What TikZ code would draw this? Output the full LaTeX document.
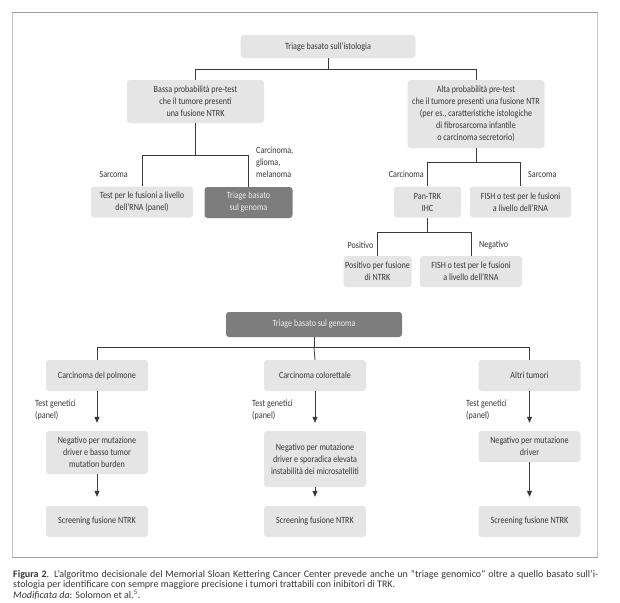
\documentclass[tikz,border=0pt]{standalone}
\usepackage{fontspec}
\setmainfont{Carlito}
\newfontfamily\boxfont{Carlito}[FakeStretch=0.85]
\usetikzlibrary{arrows.meta}
\definecolor{boxgray}{HTML}{E5E5E5}
\definecolor{darkfill}{HTML}{7D7D7D}
\definecolor{darktxt}{HTML}{ECECEC}
\definecolor{txt}{HTML}{363636}
\definecolor{linecol}{HTML}{3A3A3A}
\begin{document}
\begin{tikzpicture}[x=1pt,y=-1pt,
  box/.style={fill=boxgray, rounded corners=3pt, inner sep=0pt, align=center,
    text=txt, font=\boxfont\fontsize{9.5}{12}\selectfont},
  dbox/.style={box, fill=darkfill, text=darktxt},
  lbl/.style={inner sep=0pt, align=left, text=txt, font=\boxfont\fontsize{9.5}{12}\selectfont},
  conn/.style={draw=linecol, line width=0.8pt},
  arr/.style={conn, -{Triangle[width=5pt,length=6pt]}},
]
\useasboundingbox (0,0) rectangle (620,602);
\fill[white] (0,0) rectangle (620,602);
% frame
\draw[color=gray!45, line width=1.6pt] (12.5,12.5) -- (12.5,557) (597.5,12.5) -- (597.5,557);
\draw[color=gray!75, line width=0.8pt] (12,12.5) -- (598,12.5) (12,557) -- (598,557);

% ---- upper tree
\node[box, minimum width=175pt, minimum height=23pt] (top) at (328,46.5) {Triage basato sull’istologia};
\node[box, minimum width=137pt, minimum height=43pt] (bassa) at (195.5,101.5) {Bassa probabilità pre-test\\che il tumore presenti\\una fusione NTRK};
\node[box, minimum width=137pt, minimum height=68pt] (alta) at (476,114) {Alta probabilità pre-test\\che il tumore presenti una fusione NTR\\(per es., caratteristiche istologiche\\di fibrosarcoma infantile\\o carcinoma secretorio)};
\node[box, minimum width=102pt, minimum height=31pt] (test) at (142,202) {Test per le fusioni a livello\\dell’RNA (panel)};
\node[dbox, minimum width=88pt, minimum height=31pt] (gen1) at (248.5,202.5) {Triage basato\\sul genoma};
\node[box, minimum width=67pt, minimum height=31pt] (pan) at (427.5,202) {Pan-TRK\\IHC};
\node[box, minimum width=101pt, minimum height=31pt] (fish1) at (520.5,202) {FISH o test per le fusioni\\a livello dell’RNA};
\node[box, minimum width=68pt, minimum height=31pt] (pos) at (377.5,271.5) {Positivo per fusione\\di NTRK};
\node[box, minimum width=102pt, minimum height=31pt] (fish2) at (471,271.5) {FISH o test per le fusioni\\a livello dell’RNA};

\draw[conn] (top.south) -- ++(0,11) coordinate (j0);
\draw[conn] (bassa.north) |- (j0) -| (alta.north);
\draw[conn] (bassa.south) -- ++(0,32) coordinate (j1);
\draw[conn] (test.north) |- (j1) -| (gen1.north);
\draw[conn] (alta.south) -- ++(0,14) coordinate (j2);
\draw[conn] (pan.north) |- (j2) -| (fish1.north);
\draw[conn] (pan.south) -- ++(0,15) coordinate (j3);
\draw[conn] (pos.north) |- (j3) -| (fish2.north);

\node[lbl, anchor=east] (sarL) at (128,174) {Sarcoma};
\node[lbl, anchor=west] (cgm) at (256,162) {Carcinoma,\\glioma,\\melanoma};
\node[lbl, anchor=east] (carR) at (424,174) {Carcinoma};
\node[lbl, anchor=west] (sarR) at (528,174) {Sarcoma};
\node[lbl, anchor=east] (posL) at (373.5,245) {Positivo};
\node[lbl, anchor=west] (negL) at (479,245) {Negativo};

% ---- lower tree
\node[dbox, minimum width=176pt, minimum height=25pt] (gen2) at (314,324.5) {Triage basato sul genoma};
\foreach \n/\x in {1/97,2/315,3/529.5}{
  \node[box, minimum width=102pt, minimum height=31pt] (s\n) at (\x,521.5) {Screening fusione NTRK};
}
\node[box, minimum width=102pt, minimum height=31pt] (c1) at (97,375.5) {Carcinoma del polmone};
\node[box, minimum width=102pt, minimum height=31pt] (c2) at (315,375.5) {Carcinoma colorettale};
\node[box, minimum width=102pt, minimum height=31pt] (c3) at (529.5,375.5) {Altri tumori};
\node[box, minimum width=102pt, minimum height=43pt] (n1) at (97,452.5) {Negativo per mutazione\\driver e basso tumor\\mutation burden};
\node[box, minimum width=102pt, minimum height=56pt] (n2) at (315,459) {Negativo per mutazione\\driver e sporadica elevata\\instabilità dei microsatelliti};
\node[box, minimum width=102pt, minimum height=31pt] (n3) at (529.5,446.5) {Negativo per mutazione\\driver};

\draw[conn] (gen2.south) -- ++(0,10.5) coordinate (j4);
\draw[conn] (j4) -- (c2.north);
\draw[conn] (c1.north) |- (j4) -| (c3.north);
\foreach \n in {1,2,3}{
  \draw[arr, shorten >=8pt] (c\n.south) -- (n\n.north);
  \draw[arr, shorten >=9pt] (n\n.south) -- (s\n.north);
}
\node[lbl, anchor=west] (tg1) at (35,410) {Test genetici\\(panel)};
\node[lbl, anchor=west] (tg2) at (252,410) {Test genetici\\(panel)};
\node[lbl, anchor=west] (tg3) at (466,410) {Test genetici\\(panel)};

% ---- caption
\node[inner sep=0pt, anchor=north west, align=left, text=txt, font=\fontsize{10}{10.5}\selectfont] (cap) at (13,570)
 {\makebox[585pt][s]{\textbf{Figura 2}. L’algoritmo decisionale del Memorial Sloan Kettering Cancer Center prevede anche un “triage genomico” oltre a quello basato sull’i-}\\
  stologia per identificare con sempre maggiore precisione i tumori trattabili con inibitori di TRK.\\
  \textit{Modificata da}: Solomon et al.\textsuperscript{5}.};
\end{tikzpicture}
\end{document}
